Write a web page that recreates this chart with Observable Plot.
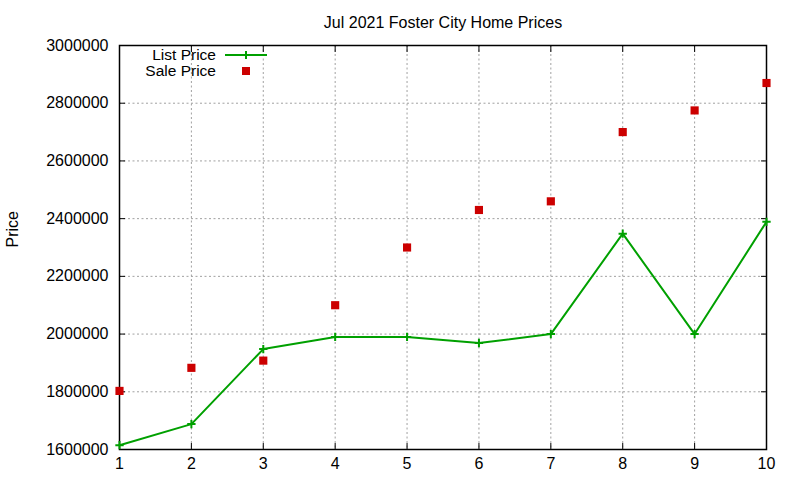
<!DOCTYPE html>
<html>
<head>
<meta charset="utf-8">
<script src="https://cdn.jsdelivr.net/npm/d3@7"></script>
<script src="https://cdn.jsdelivr.net/npm/@observablehq/plot@0.6"></script>
<style>
  html, body { margin: 0; padding: 0; background: #fff; }
  #chart { width: 800px; height: 480px; }
</style>
</head>
<body>
<div id="chart"></div>
<script>
const title = "Jul 2021 Foster City Home Prices";
const yLabel = "Price";
const seriesNames = ["List Price", "Sale Price"];
const homes = [1, 2, 3, 4, 5, 6, 7, 8, 9, 10];
const listPrice = [1615000, 1688000, 1948000, 1990000, 1990000, 1969000, 2000000, 2348000, 2000000, 2389000];
const salePrice = [1803000, 1883000, 1908000, 2100000, 2300000, 2430000, 2460000, 2700000, 2775000, 2870000];
const xTicks = [1, 2, 3, 4, 5, 6, 7, 8, 9, 10];
const yTicks = [1600000, 1800000, 2000000, 2200000, 2400000, 2600000, 2800000, 3000000];

const listData = homes.map((h, i) => ({x: h, y: listPrice[i]}));
const saleData = homes.map((h, i) => ({x: h, y: salePrice[i]}));

const green = "#00a000";
const red = "#cc0000";
const gridStyle = {stroke: "#a0a0a0", strokeOpacity: 1, strokeDasharray: "2,2.5", strokeWidth: 1};

const plot = Plot.plot({
  width: 800,
  height: 480,
  marginLeft: 119,
  marginRight: 34,
  marginTop: 45,
  marginBottom: 31,
  style: {fontFamily: "'Liberation Sans', Arial, sans-serif", fontSize: "16px", background: "#fff", color: "#000"},
  x: {domain: [1, 10], label: null},
  y: {domain: [1600000, 3000000], label: null},
  marks: [
    Plot.gridX(xTicks, gridStyle),
    Plot.gridY(yTicks, gridStyle),
    Plot.axisY(yTicks, {anchor: "left", tickSize: -6, tickPadding: 17, tickFormat: d3.format("d"), fontSize: 16, label: null, strokeWidth: 1}),
    Plot.axisY(yTicks, {anchor: "right", tickSize: -6, tickFormat: () => "", label: null}),
    Plot.axisX(xTicks, {anchor: "bottom", tickSize: -6, tickPadding: 14, tickFormat: d3.format("d"), fontSize: 16, label: null}),
    Plot.axisX(xTicks, {anchor: "top", tickSize: -6, tickFormat: () => "", label: null}),
    Plot.frame({stroke: "#000", strokeWidth: 1.5}),
    Plot.line(listData, {x: "x", y: "y", stroke: green, strokeWidth: 2}),
    Plot.dot(listData, {x: "x", y: "y", symbol: "plus", stroke: green, strokeWidth: 2, r: 2.8}),
    Plot.dot(saleData, {x: "x", y: "y", symbol: "square", fill: red, r: 4.6}),
    Plot.text([title], {frameAnchor: "top", dy: -29, text: d => d, fontSize: 16}),
    Plot.text([yLabel], {frameAnchor: "left", dx: -107, rotate: -90, text: d => d, fontSize: 16})
  ]
});

document.getElementById("chart").appendChild(plot);

// Legend (top-left inside plot, gnuplot style)
const svg = d3.select(plot);
const lg = svg.append("g").attr("font-family", "'Liberation Sans', Arial, sans-serif").attr("font-size", 15.5);
const rows = [
  {name: seriesNames[0], y: 55, kind: "line"},
  {name: seriesNames[1], y: 71, kind: "square"}
];
rows.forEach(r => {
  lg.append("text").attr("x", 216).attr("y", r.y).attr("dy", "0.35em").attr("text-anchor", "end").attr("fill", "#000").text(r.name);
  if (r.kind === "line") {
    lg.append("line").attr("x1", 225).attr("x2", 267).attr("y1", r.y).attr("y2", r.y).attr("stroke", green).attr("stroke-width", 2);
    lg.append("path").attr("d", d3.symbol(d3.symbolPlus, 23)()).attr("transform", `translate(246,${r.y})`).attr("stroke", green).attr("stroke-width", 2).attr("fill", "none");
  } else {
    lg.append("rect").attr("x", 242).attr("y", r.y - 4).attr("width", 8).attr("height", 8).attr("fill", red);
  }
});
</script>
</body>
</html>
